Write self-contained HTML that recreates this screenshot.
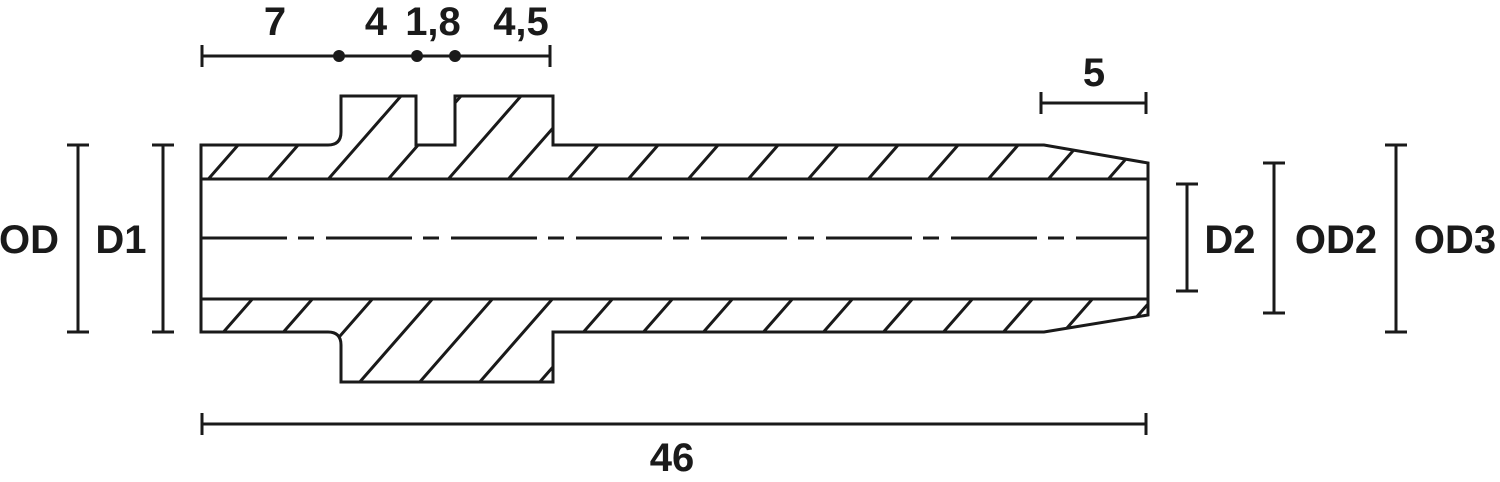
<!DOCTYPE html>
<html><head><meta charset="utf-8"><style>
html,body{margin:0;padding:0;background:#fff;}
svg{display:block}
text{font-family:"Liberation Sans",sans-serif;font-weight:bold;font-size:40px;fill:#1a1a1a;text-anchor:middle}
</style></head><body>
<svg width="1500" height="482" viewBox="0 0 1500 482" xmlns="http://www.w3.org/2000/svg">
<defs>
<clipPath id="ct"><path d="M201,145 L328,145 Q341,145 341,132 L341,96 L416,96 L416,145 L455,145 L455,96 L553,96 L553,145 L1044,145 L1148,163 L1148,179 L201,179 Z"/></clipPath>
<clipPath id="cb"><path d="M201,299 L1148,299 L1148,315 L1044,332 L553,332 L553,382 L341,382 L341,345 Q341,332 328,332 L201,332 Z"/></clipPath>
</defs>
<g stroke="#1a1a1a" stroke-width="3">
<g clip-path="url(#ct)">
<path d="M15,400 l350,-400 M75,400 l350,-400 M135,400 l350,-400 M195,400 l350,-400 M255,400 l350,-400 M315,400 l350,-400 M375,400 l350,-400 M435,400 l350,-400 M495,400 l350,-400 M555,400 l350,-400 M615,400 l350,-400 M675,400 l350,-400 M735,400 l350,-400 M795,400 l350,-400 M855,400 l350,-400 M915,400 l350,-400 M975,400 l350,-400 M1035,400 l350,-400 M-45,400 l350,-400 M-105,400 l350,-400"/>
</g>
<g clip-path="url(#cb)">
<path d="M44,400 l350,-400 M104,400 l350,-400 M164,400 l350,-400 M224,400 l350,-400 M284,400 l350,-400 M344,400 l350,-400 M404,400 l350,-400 M464,400 l350,-400 M524,400 l350,-400 M584,400 l350,-400 M644,400 l350,-400 M704,400 l350,-400 M764,400 l350,-400 M824,400 l350,-400 M884,400 l350,-400 M944,400 l350,-400 M1004,400 l350,-400 M1064,400 l350,-400 M1124,400 l350,-400 M-16,400 l350,-400"/>
</g>
<path fill="none" stroke-linejoin="miter" d="M201,145 L328,145 Q341,145 341,132 L341,96 L416,96 L416,145 L455,145 L455,96 L553,96 L553,145 L1044,145 L1148,163 L1148,315 L1044,332 L553,332 L553,382 L341,382 L341,345 Q341,332 328,332 L201,332 Z"/>
<line x1="201" y1="179" x2="1148" y2="179"/>
<line x1="201" y1="299" x2="1148" y2="299"/>
<line x1="201" y1="238" x2="1148" y2="238" stroke-dasharray="86 11 16 12"/>
<line x1="202" y1="56" x2="550" y2="56"/>
<line x1="202" y1="45" x2="202" y2="67"/>
<line x1="550" y1="45" x2="550" y2="67"/>
<line x1="1041" y1="103" x2="1146" y2="103"/>
<line x1="1041" y1="92" x2="1041" y2="114"/>
<line x1="1146" y1="92" x2="1146" y2="114"/>
<line x1="202" y1="424" x2="1146" y2="424"/>
<line x1="202" y1="413" x2="202" y2="435"/>
<line x1="1146" y1="413" x2="1146" y2="435"/>
<line x1="78" y1="145" x2="78" y2="332"/><line x1="67" y1="145" x2="89" y2="145"/><line x1="67" y1="332" x2="89" y2="332"/>
<line x1="163" y1="145" x2="163" y2="332"/><line x1="152" y1="145" x2="174" y2="145"/><line x1="152" y1="332" x2="174" y2="332"/>
<line x1="1187" y1="184" x2="1187" y2="291"/><line x1="1176" y1="184" x2="1198" y2="184"/><line x1="1176" y1="291" x2="1198" y2="291"/>
<line x1="1274" y1="163" x2="1274" y2="313"/><line x1="1263" y1="163" x2="1285" y2="163"/><line x1="1263" y1="313" x2="1285" y2="313"/>
<line x1="1396" y1="145" x2="1396" y2="332"/><line x1="1385" y1="145" x2="1407" y2="145"/><line x1="1385" y1="332" x2="1407" y2="332"/>
</g>
<g fill="#1a1a1a"><circle cx="339" cy="56" r="6"/><circle cx="417" cy="56" r="6"/><circle cx="455" cy="56" r="6"/></g>
<text x="275" y="35">7</text>
<text x="376" y="35">4</text>
<text x="433" y="35">1,8</text>
<text x="521" y="35">4,5</text>
<text x="1094" y="86">5</text>
<text x="672" y="471">46</text>
<text x="29" y="253">OD</text>
<text x="121" y="253">D1</text>
<text x="1230" y="253">D2</text>
<text x="1336" y="253">OD2</text>
<text x="1455" y="253">OD3</text>
</svg>
</body></html>
